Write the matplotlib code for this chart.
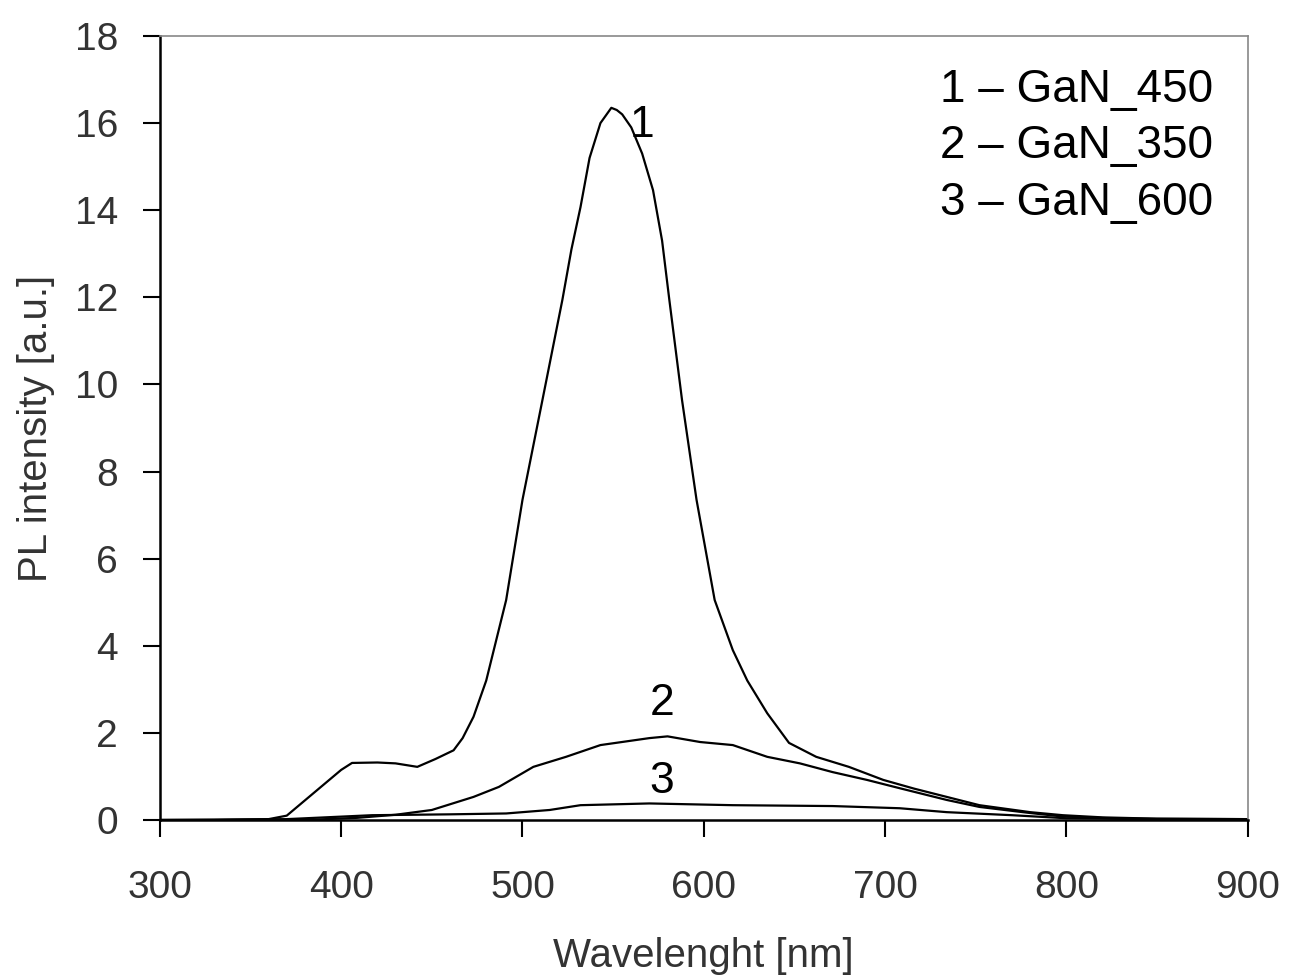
import matplotlib
matplotlib.use("Agg")
import matplotlib.pyplot as plt
import numpy as np

plt.rcParams['font.family'] = ['Liberation Sans', 'DejaVu Sans']

# curve 1 - GaN_450
wl1 = [300, 330, 360, 370, 380, 390, 400, 406, 420, 430, 442, 452, 462, 467, 473,
       480, 491, 500, 511, 522, 527, 532, 537, 543, 549, 552, 555, 560, 566, 572, 577,
       581, 588, 596, 606, 616, 624, 635, 647, 662, 680, 699, 716, 734, 752, 780, 798,
       820, 850, 900]
I1 = [0.0, 0.0, 0.02, 0.1, 0.45, 0.8, 1.15, 1.31, 1.32, 1.3, 1.22, 1.4, 1.6, 1.88, 2.37,
      3.2, 5.05, 7.35, 9.64, 11.94, 13.1, 14.07, 15.2, 16.0, 16.35, 16.3, 16.2, 15.9, 15.3, 14.46, 13.3,
      11.94, 9.64, 7.35, 5.05, 3.9, 3.2, 2.45, 1.77, 1.45, 1.22, 0.92, 0.72, 0.53, 0.34, 0.18, 0.11,
      0.06, 0.03, 0.02]

# curve 2 - GaN_350
wl2 = [300, 380, 409, 430, 450, 473, 487, 506, 524, 543, 570, 580, 598, 616, 635,
       653, 671, 690, 708, 734, 752, 780, 798, 830, 900]
I2 = [0.0, 0.0, 0.05, 0.12, 0.23, 0.53, 0.76, 1.22, 1.45, 1.72, 1.88, 1.92, 1.79, 1.72, 1.45,
      1.3, 1.1, 0.92, 0.73, 0.46, 0.3, 0.16, 0.08, 0.03, 0.02]

# curve 3 - GaN_600
wl3 = [300, 370, 417, 460, 491, 515, 532, 570, 616, 671, 708, 734, 770, 800, 850, 900]
I3 = [0.0, 0.02, 0.11, 0.13, 0.15, 0.23, 0.34, 0.38, 0.34, 0.32, 0.27, 0.18, 0.11, 0.04, 0.02, 0.02]

legend_lines = ["1 \u2013 GaN_450", "2 \u2013 GaN_350", "3 \u2013 GaN_600"]
curve_tags = ["1", "2", "3"]
tag_pos = [(566, 15.68), (577, 2.41), (577, 0.62)]

fig = plt.figure(figsize=(12.89, 9.77), dpi=100)
ax = fig.add_axes([0.124, 0.1607, 0.844, 0.8025])

for wl, I in [(wl1, I1), (wl2, I2), (wl3, I3)]:
    ax.plot(wl, I, color='black', lw=1.6)

ax.set_xlim(300, 900)
ax.set_ylim(0, 18)
ax.set_xticks(np.arange(300, 901, 100))
ax.set_yticks(np.arange(0, 19, 2))
ax.tick_params(direction='out', length=12, width=1.5, labelsize=28,
               labelcolor='#333333', color='black')
ax.tick_params(axis='y', pad=18)
ax.tick_params(axis='x', pad=24)

for s in ['left', 'bottom']:
    ax.spines[s].set_linewidth(1.8)
    ax.spines[s].set_color('black')
for s in ['top', 'right']:
    ax.spines[s].set_linewidth(1.2)
    ax.spines[s].set_color('#888888')

ax.set_xlabel("Wavelenght [nm]", fontsize=29, color='#333333', labelpad=22)
ax.set_ylabel("PL intensity [a.u.]", fontsize=29, color='#333333', labelpad=14)

for txt, (x, y) in zip(curve_tags, tag_pos):
    ax.text(x, y, txt, fontsize=32, ha='center', va='baseline', color='black')

for i, txt in enumerate(legend_lines):
    ax.text(0.717, 0.916 - i * 0.072, txt, transform=ax.transAxes,
            fontsize=33, ha='left', va='baseline', color='black')

fig.savefig("out.png", dpi=100)
